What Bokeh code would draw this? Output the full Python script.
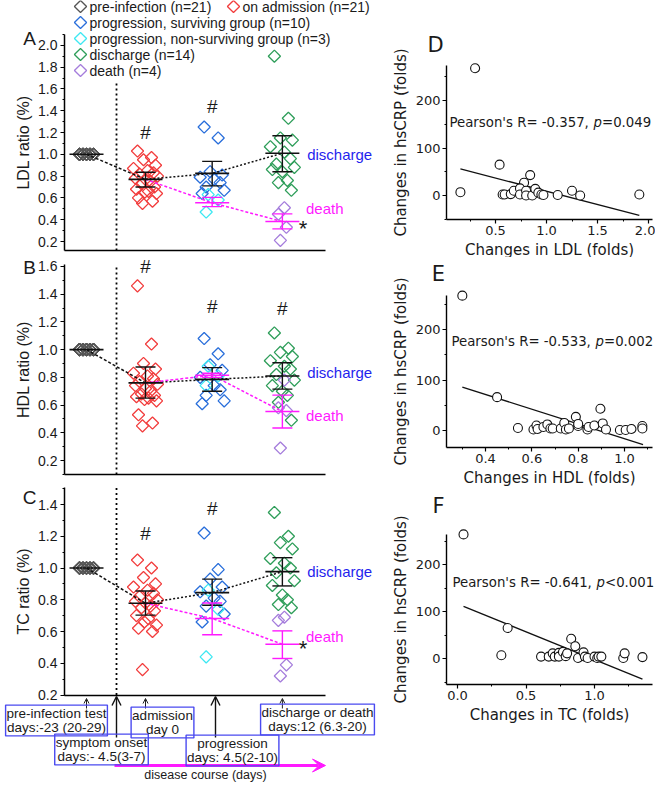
import numpy as np
from bokeh.plotting import figure
from bokeh.models import (Range1d, SingleIntervalTicker, FixedTicker, PrintfTickFormatter,
                          Label, Arrow, OpenHead, VeeHead)
from bokeh.layouts import row, column
from bokeh.embed import file_html
from bokeh.resources import INLINE
from bokeh.core.properties import value

# ------------------------------------------------------------------ data
GROUPS = ["pre-infection", "on admission", "progression", "discharge or death"]
GROUP_X = [1.0, 2.0, 3.13, 4.32]

LDL_PRE = [1.0] * 21
LDL_ADM = [1.03, 0.97, 0.95, 0.90, 0.87, 0.85, 0.83, 0.82, 0.80, 0.78, 0.77,
           0.75, 0.73, 0.70, 0.68, 0.66, 0.65, 0.64, 0.60, 0.57, 0.55]
LDL_PROG_SURV = [1.25, 1.15, 0.84, 0.81, 0.79, 0.77, 0.74, 0.70, 0.67, 0.64]
LDL_PROG_NONSURV = [0.63, 0.58, 0.47]
LDL_DISCHARGE = [1.90, 1.33, 1.15, 1.13, 1.07, 1.02, 0.96, 0.91, 0.88, 0.86,
                 0.84, 0.76, 0.74, 0.67]
LDL_DEATH = [0.51, 0.45, 0.33, 0.21]
LDL_MEAN = [1.00, 0.77, 0.825, 1.01]
LDL_LO = [1.00, 0.70, 0.71, 0.84]
LDL_HI = [1.00, 0.835, 0.935, 1.17]
LDL_DEATH_MEAN = [0.555, 0.383]
LDL_DEATH_LO = [0.52, 0.316]
LDL_DEATH_HI = [0.605, 0.453]

HDL_PRE = [1.0] * 21
HDL_ADM = [1.46, 1.04, 0.90, 0.86, 0.83, 0.81, 0.79, 0.77, 0.75, 0.74, 0.72,
           0.70, 0.68, 0.67, 0.66, 0.65, 0.64, 0.63, 0.53, 0.47, 0.45]
HDL_PROG_SURV = [1.08, 0.97, 0.89, 0.85, 0.80, 0.74, 0.71, 0.67, 0.63, 0.61]
HDL_PROG_NONSURV = [0.88, 0.81, 0.74]
HDL_DISCHARGE = [1.12, 1.01, 0.98, 0.95, 0.92, 0.88, 0.86, 0.82, 0.78, 0.74,
                 0.70, 0.67, 0.62, 0.49]
HDL_DEATH = [0.78, 0.58, 0.56, 0.29]
HDL_MEAN = [1.00, 0.76, 0.785, 0.81]
HDL_LO = [1.00, 0.65, 0.70, 0.715]
HDL_HI = [1.00, 0.875, 0.87, 0.905]
HDL_DEATH_MEAN = [0.815, 0.553]
HDL_DEATH_LO = [0.80, 0.435]
HDL_DEATH_HI = [0.83, 0.672]

TC_PRE = [1.0] * 21
TC_ADM = [1.05, 1.00, 0.94, 0.90, 0.88, 0.86, 0.84, 0.82, 0.80, 0.79, 0.78,
          0.76, 0.75, 0.73, 0.70, 0.68, 0.66, 0.64, 0.62, 0.60, 0.36]
TC_PROG_SURV = [1.22, 0.99, 0.93, 0.88, 0.85, 0.81, 0.79, 0.76, 0.71, 0.66]
TC_PROG_NONSURV = [0.86, 0.74, 0.44]
TC_DISCHARGE = [1.35, 1.20, 1.16, 1.12, 1.06, 1.03, 1.00, 0.97, 0.92, 0.89,
                0.83, 0.80, 0.77, 0.75]
TC_DEATH = [0.69, 0.67, 0.39, 0.32]
TC_MEAN = [1.00, 0.778, 0.845, 0.977]
TC_LO = [1.00, 0.703, 0.765, 0.887]
TC_HI = [1.00, 0.855, 0.93, 1.065]
TC_DEATH_MEAN = [0.682, 0.52]
TC_DEATH_LO = [0.58, 0.43]
TC_DEATH_HI = [0.78, 0.604]

# significance marks: group index and height
LDL_HASH_GROUP = [1, 2]
LDL_HASH_Y = [1.20, 1.44]
HDL_HASH_GROUP = [1, 2, 3]
HDL_HASH_Y = [1.60, 1.31, 1.30]
TC_HASH_GROUP = [1, 2]
TC_HASH_Y = [1.22, 1.375]

LEGEND_LABELS = ["pre-infection (n=21)", "on admission (n=21)",
                 "progression, surviving group (n=10)",
                 "progression, non-surviving group (n=3)",
                 "discharge (n=14)", "death (n=4)"]

TIMELINE_BOXES = ["pre-infection test\ndays:-23 (20-29)", "admission\nday 0",
                  "discharge or death\ndays:12 (6.3-20)",
                  "symptom onset\ndays:- 4.5(3-7)", "progression\ndays: 4.5(2-10)"]

# correlation panels
LDL_CHG = [0.30, 0.156, 0.54, 0.84, 0.78, 0.57, 0.59, 0.65, 0.68, 0.74, 0.74,
           0.80, 0.80, 0.86, 0.89, 0.92, 0.95, 0.97, 1.11, 1.25, 1.33, 1.91]
LDL_CRP = [268, 7, 65, 43, 27, 2, 2, 3, 10, 15, 2, 10, 0, 0, 14, 6, 2, 1, 1, 10, 0, 2]
LDL_FIT_X = [0.156, 1.91]
LDL_FIT_Y = [56, -42]

HDL_CHG = [0.30, 0.45, 0.54, 0.607, 0.62, 0.625, 0.65, 0.667, 0.68, 0.69, 0.725,
           0.74, 0.747, 0.76, 0.79, 0.80, 0.80, 0.84, 0.845, 0.87, 0.896, 0.906,
           0.92, 0.98, 1.005, 1.03, 1.077, 1.077]
HDL_CRP = [267, 66, 5, 2, 10, 3, 7, 12, 4, 4, 4, 15, 2, 4, 27, 9, 13, 2, 7, 10,
           43, 14, 2, 1, 1, 3, 9, 4]
HDL_FIT_X = [0.30, 1.08]
HDL_FIT_Y = [86, -28]

TC_CHG = [0.044, 0.366, 0.32, 0.61, 0.666, 0.695, 0.71, 0.74, 0.74, 0.77, 0.79,
          0.80, 0.83, 0.86, 0.88, 0.92, 0.93, 0.95, 1.00, 1.02, 1.03, 1.05, 1.21,
          1.22, 1.35]
TC_CRP = [264, 65, 7, 4, 4, 11, 4, 12, 4, 14, 5, 11, 42, 26, 1, 13, 4, 1, 4, 1,
          4, 4, 1, 11, 3]
TC_FIT_X = [0.044, 1.35]
TC_FIT_Y = [111, -44]

PEARSON = [("-0.357", "=0.049"), ("-0.533", "=0.002"), ("-0.641", "<0.001")]

# ------------------------------------------------------------------ style / layout
F_ARIAL = "Liberation Sans"
F_DEJ = "DejaVu Sans"
C_PRE = "#555555"
C_ADM = "#f23d3d"
C_PS = "#2a6fdb"
C_PNS = "#3ee8f2"
C_DIS = "#2f9e5a"
C_DEATH = "#a57ddc"
C_MAG = "#ff1aff"
C_BLUE_TXT = "#1f1fee"
C_BOX = "#4a4af0"
C_TXT = "#1a1a1a"

LEFT_W = 392            # page x 8 .. 400
RIGHT_W = 263           # page x 400 .. 663
PX_U = 59.0             # pixels per group unit


def px2x(px):
    return 1.0 + (px - 94.0) / PX_U


LX0, LX1 = px2x(8), px2x(400)
YAX_X = px2x(72)
XAX_END = px2x(333)
DOT_X = px2x(124)
JIT = [-8, 6, -2, 10, -12, 2, 8, -6, 12, -10, 0, 5, -4, 9, -9, 3, -1, 11, -7, 7, -3]
JIT_PRE = [-7, -3.5, 0, 3.5, 7]
HW = 17 / PX_U
CW = 10 / PX_U
DSIZE = 8.6


def diamonds(p, xs, ys, color):
    p.scatter(xs, ys, marker="square", angle=np.pi / 4, size=DSIZE,
              fill_color=None, line_color=color, line_width=1.3)


def jitter(gx, vals, pat):
    return [gx + pat[i % len(pat)] / PX_U for i in range(len(vals))]


def txt(p, x, y, s, size, color=C_TXT, align="left", font=F_ARIAL, style="normal",
        x_offset=0):
    p.add_layout(Label(x=x, y=y, x_offset=x_offset, text=s, text_font=font,
                       text_font_size=size, text_color=color, text_align=align,
                       text_baseline="middle", text_font_style=style))


def bare_fig(w, h, xr, yr):
    p = figure(width=w, height=h, x_range=Range1d(*xr), y_range=Range1d(*yr),
               output_backend="svg", toolbar_location=None, min_border=0,
               min_border_left=0, min_border_right=0, min_border_top=0,
               min_border_bottom=0)
    p.grid.visible = False
    p.outline_line_color = None
    return p


def style_axis(ax, tick_font, tick_size, lab_font, lab_size, standoff):
    ax.axis_line_width = 1.5
    ax.major_tick_out = 4
    ax.major_tick_in = 0
    ax.minor_tick_out = 2
    ax.minor_tick_in = 0
    ax.major_tick_line_width = 1.2
    ax.major_label_text_font = tick_font
    ax.major_label_text_font_size = tick_size
    ax.major_label_text_color = C_TXT
    ax.major_label_standoff = standoff
    ax.axis_label_text_font = lab_font
    ax.axis_label_text_font_size = lab_size
    ax.axis_label_text_font_style = "normal"
    ax.axis_label_text_color = C_TXT
    ax.axis_label_standoff = 3


def ratio_panel(letter, ylabel, page_top, height, ref_page, ppu, xaxis_page, ytop_axis,
                dot_top, pre, adm, ps, pns, dis, dth, mean, lo, hi, dmean, dlo, dhi,
                hash_g, hash_y, star_y, dis_y, death_y, letter_page):
    def yv(page):
        return 0.2 + (ref_page - page) / ppu

    p = bare_fig(LEFT_W, height, (LX0, LX1), (yv(page_top + height), yv(page_top)))
    yax0 = yv(xaxis_page)
    ya = p.yaxis[0]
    ya.fixed_location = YAX_X
    ya.bounds = (yax0, ytop_axis)
    ya.ticker = SingleIntervalTicker(interval=0.2, num_minor_ticks=2)
    ya.formatter = PrintfTickFormatter(format="%.1f")
    ya.axis_label = ylabel
    style_axis(ya, F_ARIAL, "14px", F_ARIAL, "16px", 3)
    xa = p.xaxis[0]
    xa.fixed_location = yax0
    xa.ticker = FixedTicker(ticks=[])
    xa.bounds = (YAX_X, XAX_END)
    xa.axis_line_width = 1.5

    # separator (symptom onset)
    p.segment(x0=[DOT_X], x1=[DOT_X], y0=[yax0], y1=[dot_top],
              line_color="#000000", line_width=1.8, line_dash="2 3")

    gx = GROUP_X
    diamonds(p, jitter(gx[0], pre, JIT_PRE), pre, C_PRE)
    diamonds(p, jitter(gx[1], adm, JIT), adm, C_ADM)
    diamonds(p, jitter(gx[2], ps, JIT), ps, C_PS)
    diamonds(p, jitter(gx[2], pns, [-4, 6, -6]), pns, C_PNS)
    diamonds(p, jitter(gx[3], dis, JIT), dis, C_DIS)
    diamonds(p, jitter(gx[3], dth, [2, -4, 4, -2]), dth, C_DEATH)

    # connecting lines
    p.line([gx[0], gx[1]], [mean[0], mean[1]], line_color="#111111",
           line_width=1.5, line_dash="3 2")
    p.line(gx[1:], mean[1:], line_color="#111111", line_width=1.5, line_dash="2 2")
    p.line(gx[1:], [mean[1]] + dmean, line_color=C_MAG, line_width=1.5,
           line_dash="3 2")

    def bars(xs, m, l, h, color):
        p.segment(x0=[x - HW for x in xs], x1=[x + HW for x in xs], y0=m, y1=m,
                  line_color=color, line_width=1.6)
        p.segment(x0=xs, x1=xs, y0=l, y1=h, line_color=color, line_width=1.4)
        p.segment(x0=[x - CW for x in xs], x1=[x + CW for x in xs], y0=l, y1=l,
                  line_color=color, line_width=1.4)
        p.segment(x0=[x - CW for x in xs], x1=[x + CW for x in xs], y0=h, y1=h,
                  line_color=color, line_width=1.4)

    p.segment(x0=[gx[0] - HW], x1=[gx[0] + HW], y0=[mean[0]], y1=[mean[0]],
              line_color="#111111", line_width=1.6)
    bars(gx[1:], mean[1:], lo[1:], hi[1:], "#111111")
    bars(gx[2:], dmean, dlo, dhi, C_MAG)

    p.text(x=[gx[g] for g in hash_g], y=hash_y, text=["#"] * len(hash_g),
           text_font=value(F_ARIAL), text_font_size="19px", text_align="center",
           text_baseline="middle", text_color=C_TXT)
    if star_y is not None:
        txt(p, gx[3] + 0.35, star_y, "*", "22px", align="center")
    txt(p, gx[3] + 0.42, dis_y, "discharge", "15px", color=C_BLUE_TXT)
    txt(p, gx[3] + 0.40, death_y, "death", "15px", color=C_MAG)
    txt(p, px2x(37), yv(letter_page), letter, "19px", align="center")
    return p, yv


pA, yA = ratio_panel("A", "LDL ratio (%)", 8, 255, 249, 109.0, 258, 2.10, 1.65,
                     LDL_PRE, LDL_ADM, LDL_PROG_SURV, LDL_PROG_NONSURV, LDL_DISCHARGE,
                     LDL_DEATH, LDL_MEAN, LDL_LO, LDL_HI, LDL_DEATH_MEAN, LDL_DEATH_LO,
                     LDL_DEATH_HI, LDL_HASH_GROUP, LDL_HASH_Y, 0.32, 1.0, 0.50, 46)
pB, yB = ratio_panel("B", "HDL ratio (%)", 263, 224, 468, 138.6, 482, 1.615, 1.615,
                     HDL_PRE, HDL_ADM, HDL_PROG_SURV, HDL_PROG_NONSURV, HDL_DISCHARGE,
                     HDL_DEATH, HDL_MEAN, HDL_LO, HDL_HI, HDL_DEATH_MEAN, HDL_DEATH_LO,
                     HDL_DEATH_HI, HDL_HASH_GROUP, HDL_HASH_Y, None, 0.837, 0.525, 275)
pC, yC = ratio_panel("C", "TC ratio (%)", 487, 303, 702.5, 158.75, 702.5, 1.51, 1.51,
                     TC_PRE, TC_ADM, TC_PROG_SURV, TC_PROG_NONSURV, TC_DISCHARGE,
                     TC_DEATH, TC_MEAN, TC_LO, TC_HI, TC_DEATH_MEAN, TC_DEATH_LO,
                     TC_DEATH_HI, TC_HASH_GROUP, TC_HASH_Y, 0.49, 0.98, 0.57, 505)

# legend inside panel A's top area
LEG_COLORS = [C_PRE, C_ADM, C_PS, C_PNS, C_DIS, C_DEATH]
LEG_POS = [(88, 14), (241, 14), (88, 30), (88, 46), (88, 62), (88, 78)]
for lab, col, (px, py) in zip(LEGEND_LABELS, LEG_COLORS, LEG_POS):
    diamonds(pA, [px2x(px)], [yA(py)], col)
    txt(pA, px2x(px + 9), yA(py), lab, "14px")

# timeline, drawn below panel C's axis
for gxi in [GROUP_X[0], GROUP_X[1], GROUP_X[3]]:
    pC.add_layout(Arrow(end=OpenHead(size=5, line_width=1, line_color="#222222"),
                        x_start=gxi, y_start=yC(716), x_end=gxi, y_end=yC(706),
                        line_width=1, line_color="#222222"))
for gxi in [DOT_X, px2x(223)]:
    pC.add_layout(Arrow(end=OpenHead(size=9, line_width=1.4, line_color="#111111"),
                        x_start=gxi, y_start=yC(745), x_end=gxi, y_end=yC(704),
                        line_width=1.4, line_color="#111111"))
pC.add_layout(Arrow(end=VeeHead(size=13, fill_color=C_MAG, line_color=C_MAG),
                    x_start=px2x(122), y_start=yC(773), x_end=XAX_END, y_end=yC(773),
                    line_width=3, line_color=C_MAG))
BOX_POS = [(64, 728), (170, 730), (325, 727), (109, 757), (240, 758)]
for t, (bx, by) in zip(TIMELINE_BOXES, BOX_POS):
    pC.add_layout(Label(x=px2x(bx), y=yC(by), text=t, text_font=F_ARIAL,
                        text_font_size="13.5px", text_color=C_TXT, text_align="center",
                        text_baseline="middle", text_line_height=0.92,
                        border_line_color=C_BOX, border_line_width=1.4, padding=1))
txt(pC, px2x(213), yC(782), "disease course (days)", "12.5px", align="center")


# ------------------------------------------------------------------ correlations
def corr_panel(letter, xlabel, xs, ys, fx, fy, page_top, height, xref, xref_page, xppu,
               yref_page, yppu, yax_page, yax_top_page, xint, pear, text_page,
               letter_page):
    def xv(px):
        return xref + (px - xref_page) / xppu

    def yv(py):
        return (yref_page - py) / yppu

    p = bare_fig(RIGHT_W, height, (xv(400), xv(663)),
                 (yv(page_top + height), yv(page_top)))
    xa, ya = p.xaxis[0], p.yaxis[0]
    style_axis(xa, F_DEJ, "13px", F_DEJ, "15px", 2)
    style_axis(ya, F_DEJ, "13px", F_DEJ, "15px", 2)
    ya.fixed_location = xv(454)
    xa.fixed_location = yv(yax_page)
    ya.bounds = (yv(yax_page), yv(yax_top_page))
    xa.bounds = (xv(454), xv(660))
    xa.ticker = SingleIntervalTicker(interval=xint, num_minor_ticks=2)
    xa.formatter = PrintfTickFormatter(format="%.1f")
    ya.ticker = SingleIntervalTicker(interval=100, num_minor_ticks=2)
    xa.axis_label = xlabel
    ya.axis_label = "Changes in hsCRP (folds)"
    xa.axis_line_width = 1.4
    ya.axis_line_width = 1.4

    p.line(fx, fy, line_color="#111111", line_width=1.3)
    p.scatter(xs, ys, marker="circle", size=9, fill_color="white",
              line_color="#111111", line_width=1.1)

    r, pv = pear
    tpx, tpy = text_page
    for s, off, style in [("Pearson's R= " + r + ",", 0, "normal"),
                          ("p", 144, "italic"), (pv, 152.5, "normal")]:
        txt(p, xv(tpx), yv(tpy), s, "13.3px", font=F_DEJ, style=style, x_offset=off)
    txt(p, xv(letter_page[0]), yv(letter_page[1]), letter, "21px", align="center",
        font=F_DEJ)
    return p


pD = corr_panel("D", "Changes in LDL (folds)", LDL_CHG, LDL_CRP, LDL_FIT_X, LDL_FIT_Y,
                8, 257, 0.5, 503, 102.0, 203, 0.475, 227, 73, 0.5, PEARSON[0],
                (457, 130), (443, 52))
pE = corr_panel("E", "Changes in HDL (folds)", HDL_CHG, HDL_CRP, HDL_FIT_X, HDL_FIT_Y,
                265, 233, 0.4, 493, 231.7, 438, 0.505, 455, 303, 0.2, PEARSON[1],
                (459, 349), (446, 281))
pF = corr_panel("F", "Changes in TC (folds)", TC_CHG, TC_CRP, TC_FIT_X, TC_FIT_Y,
                498, 292, 0.0, 465, 137.0, 666, 0.47, 692, 542, 0.5, PEARSON[2],
                (460, 590), (446, 513))

layout = row(column(pA, pB, pC, spacing=0), column(pD, pE, pF, spacing=0), spacing=0)

open("out.html", "w").write(file_html(layout, INLINE))
